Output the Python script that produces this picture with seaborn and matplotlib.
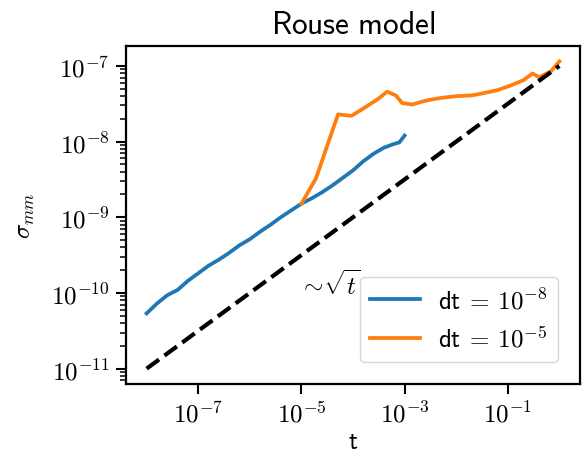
import numpy as np
import pandas as pd
import matplotlib
matplotlib.use("Agg")
import matplotlib.pyplot as plt
from matplotlib.ticker import FuncFormatter, NullLocator, NullFormatter
import seaborn as sns

# log10 values
blue_logt = [-8.0, -7.8, -7.6, -7.4, -7.2, -7.0, -6.8, -6.6, -6.4, -6.2, -6.0, -5.8, -5.6,
             -5.4, -5.2, -5.0, -4.8, -4.6, -4.4, -4.2, -4.0, -3.8, -3.6, -3.4, -3.2, -3.1, -3.0]
blue_logy = [-10.27, -10.14, -10.03, -9.96, -9.84, -9.74, -9.64, -9.56, -9.47, -9.37, -9.29,
             -9.19, -9.10, -9.00, -8.91, -8.82, -8.75, -8.67, -8.58, -8.48, -8.38, -8.26,
             -8.16, -8.08, -8.03, -8.01, -7.92]
orange_logt = [-5.0, -4.72, -4.29, -4.03, -3.77, -3.5, -3.34, -3.17, -3.05, -2.85, -2.65,
               -2.45, -2.26, -2.0, -1.7, -1.47, -1.2, -0.95, -0.7, -0.52, -0.39, -0.16, 0.0]
orange_logy = [-8.82, -8.49, -7.64, -7.66, -7.55, -7.43, -7.34, -7.39, -7.49, -7.51, -7.47,
               -7.44, -7.42, -7.40, -7.39, -7.36, -7.32, -7.26, -7.19, -7.10, -7.15, -7.07, -6.94]
ref_t = [1e-8, 1.0]
ref_y = [1e-11, 1e-7]
x_ticks = [1e-7, 1e-5, 1e-3, 1e-1]
y_ticks = [1e-11, 1e-10, 1e-9, 1e-8, 1e-7]
labels = [r"$\mathsf{dt}\:=\:10^{-8}$", r"$\mathsf{dt}\:=\:10^{-5}$"]

plt.rcParams["mathtext.fontset"] = "cm"
plt.rcParams["font.family"] = ["DejaVu Sans"]
plt.rcParams["axes.linewidth"] = 1.6

df = pd.concat([
    pd.DataFrame({"t": 10 ** np.array(blue_logt), "s": 10 ** np.array(blue_logy), "run": labels[0]}),
    pd.DataFrame({"t": 10 ** np.array(orange_logt), "s": 10 ** np.array(orange_logy), "run": labels[1]}),
])

fig = plt.figure(figsize=(5.86, 4.56), dpi=100)
ax = fig.add_axes([126 / 586, 1 - 385 / 456, 454 / 586, 338 / 456])
sns.lineplot(data=df, x="t", y="s", hue="run", palette=["#1f77b4", "#ff7f0e"],
             linewidth=2.7, ax=ax, sort=False, estimator=None)
ax.plot(ref_t, ref_y, "k--", linewidth=3)
ax.set_xscale("log")
ax.set_yscale("log")

fmt = FuncFormatter(lambda v, p: r"$10^{%d}$" % int(round(np.log10(v))))
ax.set_xticks(x_ticks)
ax.set_yticks(y_ticks)
ax.xaxis.set_major_formatter(fmt)
ax.yaxis.set_major_formatter(fmt)
ax.xaxis.set_minor_locator(NullLocator())
ax.yaxis.set_minor_formatter(NullFormatter())
ax.tick_params(which="major", labelsize=18, length=7, width=1.5, pad=5)
ax.tick_params(which="minor", length=4.5, width=1.1)

ax.text(9e-6, 1.3e-10, r"$\sim\!\sqrt{t}$", fontsize=18, ha="left", va="center")
ax.set_title(r"$\mathsf{Rouse\ model}$", fontsize=22.5, pad=9)
ax.set_xlabel(r"$\mathsf{t}$", fontsize=18, labelpad=2)
ax.set_ylabel(r"$\sigma_{mm}$", fontsize=18, labelpad=10)
ax.legend(loc="lower right", fontsize=18, title=None, handlelength=2.0,
          handletextpad=0.7, borderaxespad=0.9, labelspacing=0.5)
fig.savefig("out.png", dpi=100)
